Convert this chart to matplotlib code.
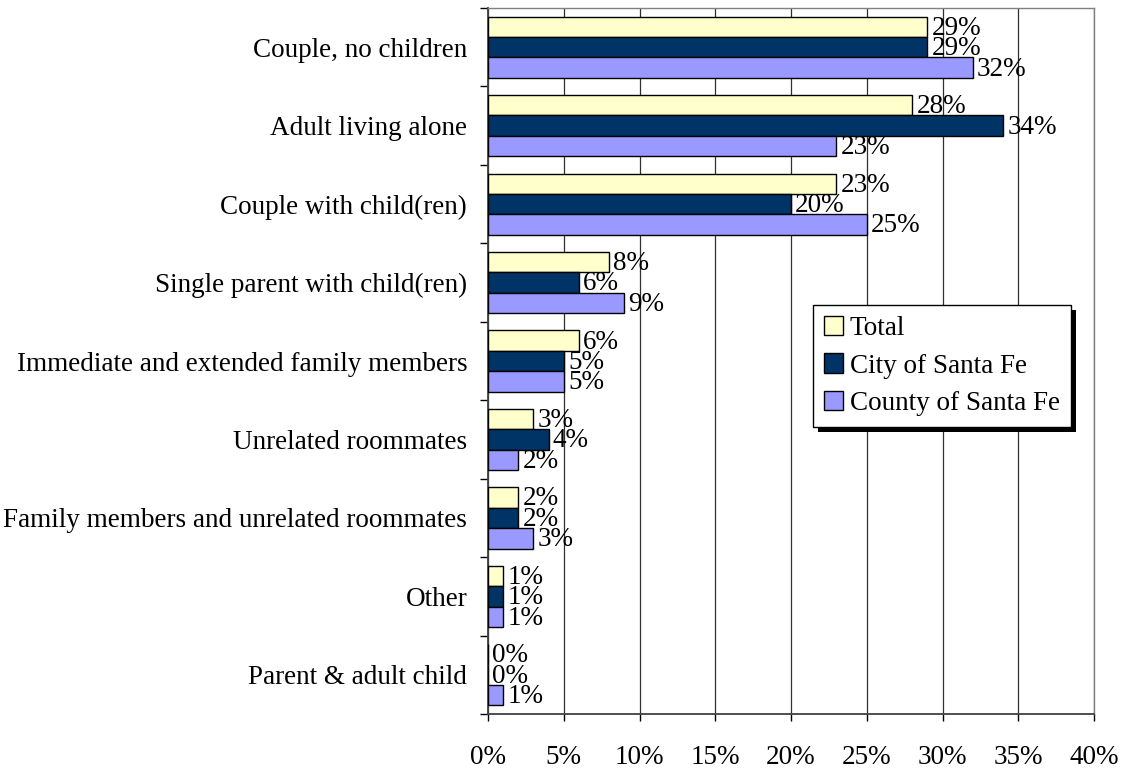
import matplotlib
matplotlib.use("Agg")
import matplotlib.pyplot as plt
from matplotlib.patches import Rectangle
import numpy as np

plt.rcParams["font.family"] = ["Liberation Serif", "DejaVu Serif"]

categories = [
    "Couple, no children",
    "Adult living alone",
    "Couple with child(ren)",
    "Single parent with child(ren)",
    "Immediate and extended family members",
    "Unrelated roommates",
    "Family members and unrelated roommates",
    "Other",
    "Parent & adult child",
]
total = [29, 28, 23, 8, 6, 3, 2, 1, 0]
city = [29, 34, 20, 6, 5, 4, 2, 1, 0]
county = [32, 23, 25, 9, 5, 2, 3, 1, 1]

series = [
    ("Total", total, "#FFFFCC"),
    ("City of Santa Fe", city, "#003366"),
    ("County of Santa Fe", county, "#9999FF"),
]

fs = 19.5
fig = plt.figure(figsize=(11.26, 7.72), dpi=100)
ax = fig.add_axes([0.4334, 0.0751, 0.5382, 0.9145])

n = len(categories)
centers = np.arange(n)
bar_h = 0.26

for i, (name, vals, color) in enumerate(series):
    ys = centers + (i - 1) * bar_h
    ax.barh(ys, vals, height=bar_h, color=color, edgecolor="black",
            linewidth=1.0, label=name, zorder=3)
    for y, v in zip(ys, vals):
        ax.annotate(f"{v}%", xy=(v, y), xytext=(3, -1), textcoords="offset points",
                    ha="left", va="center", fontsize=fs, zorder=4)

ax.set_xlim(0, 40)
ax.set_ylim(n - 0.5, -0.5)

ax.set_xticks(np.arange(0, 41, 5))
ax.set_xticklabels([f"{t}%" for t in range(0, 41, 5)], fontsize=fs)
ax.tick_params(axis="x", direction="out", length=5, width=1, pad=17)
ax.xaxis.grid(True, color="#303030", linewidth=0.9, zorder=0)

# category boundaries get tick marks, labels sit at the centres
ax.set_yticks(np.arange(-0.5, n, 1.0))
ax.set_yticklabels([])
ax.set_yticks(centers, minor=True)
ax.set_yticklabels(categories, minor=True, fontsize=fs)
ax.tick_params(axis="y", which="major", direction="out", length=6, width=1)
ax.tick_params(axis="y", which="minor", length=0, pad=15)

for side in ["top", "right"]:
    ax.spines[side].set_color("#808080")
    ax.spines[side].set_linewidth(1)
ax.spines["left"].set_color("#404040")
ax.spines["bottom"].set_color("#404040")
ax.spines["left"].set_linewidth(1.3)
ax.spines["bottom"].set_linewidth(1.3)

leg = ax.legend(loc="upper left", bbox_to_anchor=(0.536, 0.579), borderaxespad=0,
                fontsize=fs, fancybox=False, edgecolor="black", framealpha=1,
                handlelength=0.72, handleheight=0.72, handletextpad=0.25,
                labelspacing=0.45, borderpad=0.4)
leg.get_frame().set_linewidth(1)
leg.set_zorder(6)

# solid drop shadow behind the legend box
fig.canvas.draw()
bb = leg.get_window_extent()
inv = ax.transAxes.inverted()
(x0, y0), (x1, y1) = inv.transform([(bb.x0 + 5, bb.y0 - 5), (bb.x1 + 5, bb.y1 - 5)])
ax.add_patch(Rectangle((x0, y0), x1 - x0, y1 - y0, transform=ax.transAxes,
                       facecolor="black", edgecolor="none", zorder=5, clip_on=False))

fig.savefig("out.png", dpi=100)
